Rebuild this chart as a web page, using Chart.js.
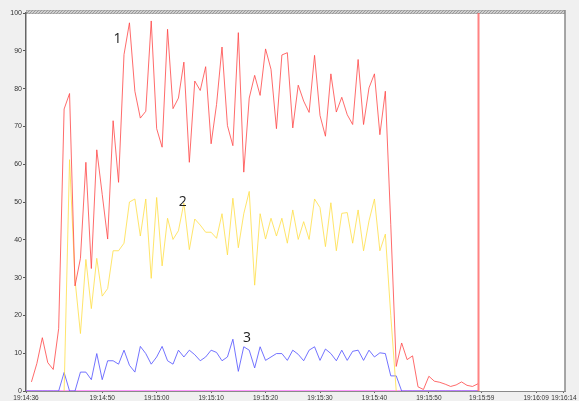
<!DOCTYPE html>
<html>
<head>
<meta charset="utf-8">
<script src="https://cdn.jsdelivr.net/npm/chart.js@4.4.1/dist/chart.umd.min.js"></script>
<style>
  html, body { margin: 0; padding: 0; background: #f0f0f0; }
</style>
</head>
<body>
<canvas id="chart" width="579" height="401"></canvas>
<script>
// start of the record, x values are seconds after it
const startClock = [19, 14, 36];
const tickSeconds = [0, 14, 24, 34, 44, 54, 64, 74, 83.7, 93.7, 98.8];
const cursorSecond = 83;

// series 1 (red), from second 1
const start1 = 1;
const series1 = [2.4, 7.3, 14.1, 7.5, 5.7, 16.5, 74.6, 78.7, 27.8, 35.1,
  60.5, 32.4, 63.8, 52, 40.2, 71.5, 55.2, 89.0, 97.4, 79.3,
  72.2, 74.0, 97.9, 69.4, 64.5, 95.7, 74.7, 77.5, 87.0, 60.5,
  82.0, 79.5, 85.8, 65.4, 75.8, 91.0, 70.2, 64.9, 94.8, 57.9,
  77.5, 83.5, 78.2, 90.5, 85.1, 69.4, 88.9, 89.5, 69.6, 80.9,
  76.7, 73.7, 88.8, 72.9, 67.4, 83.9, 73.8, 77.7, 73.1, 70.5,
  87.7, 70.5, 80.2, 83.9, 67.8, 79.3, 44, 6.5, 12.7, 8.3,
  9.3, 1.1, 0.4, 3.9, 2.6, 2.3, 1.8, 1.2, 1.6, 2.4,
  1.5, 1.2, 1.9];

// series 2 (yellow), from second 7
const start2 = 7;
const series2 = [0, 61.2, 29.4, 15.2, 34.8, 21.8, 35.1, 25.1, 27.1, 37.1,
  37.1, 39.1, 50.0, 50.8, 41.0, 50.8, 29.8, 51.2, 33.1, 45.7,
  40.1, 42.4, 49.7, 37.4, 45.5, 43.9, 42.0, 42.0, 40.4, 46.9,
  36.0, 51.0, 37.9, 46.9, 52.8, 28.0, 46.9, 40.2, 45.7, 41.0,
  45.7, 39.1, 47.9, 40.1, 44.8, 40.1, 50.8, 48.5, 38.2, 49.8,
  37.1, 47.0, 47.2, 39.1, 47.9, 37.1, 45.0, 50.8, 37.1, 41.5,
  20, 0];

// series 3 (blue), from second 0
const start3 = 0;
const series3 = [0, 0, 0, 0, 0, 0, 0, 4.9, 0, 0,
  5.0, 5.0, 3.0, 9.9, 3.0, 8.0, 8.0, 7.1, 10.8, 6.8,
  5.0, 11.8, 9.9, 7.1, 9.0, 11.8, 8.0, 7.1, 10.8, 9.0,
  10.8, 9.6, 8.0, 9.0, 10.8, 10.2, 8.0, 9.0, 13.7, 5.2,
  11.7, 10.8, 6.1, 11.7, 8.1, 9.0, 9.9, 9.9, 8.1, 10.8,
  9.7, 8.0, 10.8, 11.7, 8.1, 11.1, 9.9, 8.0, 10.8, 8.1,
  10.5, 10.8, 8.1, 10.8, 9.0, 10.1, 9.9, 4.0, 4.0, 0,
  0, 0, 0, 0, 0, 0, 0, 0, 0, 0,
  0, 0, 0, 0];

// series 4 (pink), flat on zero
const start4 = 0;
const series4 = new Array(84).fill(0);

// the "1", "2", "3" tags, in data units
const seriesTags = [
  { text: "1", x: 16.8, y: 93 },
  { text: "2", x: 28.8, y: 50 },
  { text: "3", x: 40.6, y: 14 }
];

const toPoints = (values, start) => values.map((v, i) => ({ x: start + i, y: v }));

const clockLabel = (sec) => {
  let total = startClock[0] * 3600 + startClock[1] * 60 + startClock[2] + Math.floor(sec);
  const h = Math.floor(total / 3600);
  const m = Math.floor((total % 3600) / 60);
  const s = total % 60;
  const pad = (n) => String(n).padStart(2, "0");
  return h + ":" + pad(m) + ":" + pad(s);
};

const frame = {
  id: "frame",
  beforeDraw(chart) {
    const { ctx, chartArea: a, width, height } = chart;
    ctx.save();
    ctx.fillStyle = "#f0f0f0";
    ctx.fillRect(0, 0, width, height);
    ctx.fillStyle = "#ffffff";
    ctx.fillRect(a.left, a.top, a.right - a.left, a.bottom - a.top);
    // hatched bar on top
    ctx.fillStyle = "#cfcfcf";
    ctx.fillRect(a.left, a.top - 3, a.right - a.left, 4);
    ctx.strokeStyle = "#9a9a9a";
    ctx.lineWidth = 1;
    ctx.beginPath();
    ctx.rect(a.left, a.top - 3, a.right - a.left, 4);
    ctx.clip();
    for (let x = a.left; x < a.right + 5; x += 3) {
      ctx.moveTo(x, a.top + 1);
      ctx.lineTo(x + 4, a.top - 3);
    }
    ctx.stroke();
    ctx.restore();
  },
  afterDatasetsDraw(chart) {
    const { ctx, chartArea: a, scales } = chart;
    ctx.save();
    // cursor line
    const cx = Math.round(scales.x.getPixelForValue(cursorSecond)) + 0.5;
    ctx.strokeStyle = "rgba(255,90,90,0.75)";
    ctx.lineWidth = 2;
    ctx.beginPath();
    ctx.moveTo(cx, a.top);
    ctx.lineTo(cx, a.bottom);
    ctx.stroke();
    // right border
    ctx.strokeStyle = "#8a8a8a";
    ctx.lineWidth = 1.5;
    ctx.beginPath();
    ctx.moveTo(a.right, a.top - 3);
    ctx.lineTo(a.right, a.bottom);
    ctx.stroke();
    // series tags
    ctx.fillStyle = "#222";
    ctx.font = "14px 'Open Sans'";
    ctx.textAlign = "center";
    ctx.textBaseline = "middle";
    seriesTags.forEach((t) => {
      ctx.fillText(t.text, scales.x.getPixelForValue(t.x), scales.y.getPixelForValue(t.y));
    });
    ctx.restore();
  }
};

const ctx = document.getElementById("chart").getContext("2d");

new Chart(ctx, {
  type: "line",
  data: {
    datasets: [
      { data: toPoints(series1, start1), borderColor: "rgba(255,70,70,0.8)", order: 1 },
      { data: toPoints(series2, start2), borderColor: "rgba(255,222,70,0.8)", order: 2 },
      { data: toPoints(series3, start3), borderColor: "rgba(90,90,255,0.85)", order: 3 },
      { data: toPoints(series4, start4), borderColor: "#ff77ff", borderWidth: 1.5, order: 4 }
    ]
  },
  options: {
    responsive: false,
    animation: false,
    parsing: false,
    layout: { padding: { top: 13, right: 14, left: 0, bottom: 0 } },
    elements: {
      point: { radius: 0 },
      line: { borderWidth: 1, tension: 0 }
    },
    plugins: {
      legend: { display: false },
      tooltip: { enabled: false }
    },
    scales: {
      x: {
        type: "linear",
        min: 0,
        max: 99,
        afterBuildTicks: (scale) => {
          scale.ticks = tickSeconds.map((s) => ({ value: s }));
        },
        afterFit: (scale) => { scale.height = 10; },
        grid: { drawOnChartArea: false, drawTicks: true, tickLength: 2, color: "#666" },
        border: { color: "#8a8a8a", width: 1 },
        ticks: {
          autoSkip: false,
          maxRotation: 0,
          padding: 1,
          color: "#333",
          font: { family: "Liberation Sans", size: 6.5 },
          callback: (v) => clockLabel(v)
        }
      },
      y: {
        min: 0,
        max: 100,
        afterFit: (scale) => { scale.width = 26; },
        grid: { drawOnChartArea: false, drawTicks: true, tickLength: 3, color: "#555" },
        border: { color: "#666", width: 1.5 },
        ticks: {
          stepSize: 10,
          padding: 1,
          color: "#333",
          font: { family: "Liberation Sans", size: 7 }
        }
      }
    }
  },
  plugins: [frame]
});
</script>
</body>
</html>
